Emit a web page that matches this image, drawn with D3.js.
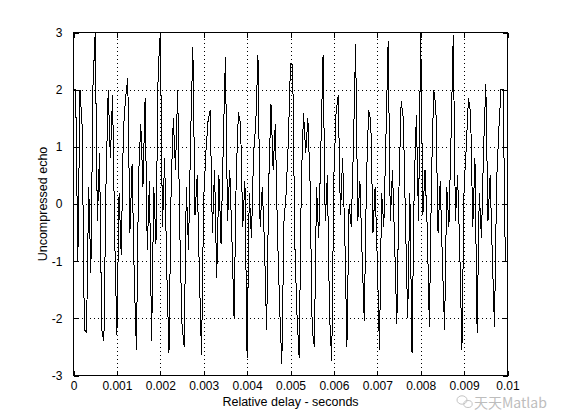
<!DOCTYPE html>
<html>
<head>
<meta charset="utf-8">
<script src="https://cdn.jsdelivr.net/npm/d3@7"></script>
<style>
  body { margin: 0; background: #fff; }
  text { font-family: "Liberation Sans", Arial, Helvetica, sans-serif; }
</style>
</head>
<body>
<div id="chart"></div>
<script>
var dt = 0.00005;
var echo = [
  2.0, 2.0, -1.0, 2.0, 1.35, -2.2, -2.25, 0.3, -1.2, 2.1,
  3.0, -0.3, 0.9, -2.2, -2.4, 0.4, 2.0, 0.8, 1.9, -0.6,
  -2.3, 0.2, -0.9, 1.3, 1.85, 2.2, -0.5, 0.7, -1.3, -2.55,
  0.5, 1.4, 0.3, 1.85, -0.8, 0.4, -2.4, 0.3, -0.7, 2.3,
  3.0, -0.4, 0.8, -1.2, -2.6, 0.3, 1.5, 0.6, 2.0, -0.5,
  -2.1, -2.5, 0.3, -0.8, 1.2, 2.75, -0.2, 0.5, -1.2, -2.65,
  0.1, 0.9, 1.45, 1.65, -0.5, 0.6, -1.3, 0.5, -0.7, 1.0,
  2.57, -0.3, 0.6, -0.6, -2.0, 0.5, 1.6, 1.4, -0.4, 0.4,
  -2.7, 0.2, -0.6, 0.9, 1.4, 2.6, -0.4, 0.3, -0.7, -2.2,
  0.4, 1.75, 0.6, 1.4, -0.5, -1.8, -2.8, -0.3, 0.2, 1.1,
  2.45, 2.43, -0.7, -1.95, -2.7, 0.4, 1.6, 0.9, 1.5, 0.4,
  -2.2, -2.5, 0.3, -0.6, 1.0, 2.6, -0.3, 0.5, -1.95, -2.75,
  0.5, 1.6, 1.9, -0.2, 0.8, -0.5, -2.5, 0.0, -0.4, 1.0,
  2.8, -0.3, 0.4, -0.9, -2.05, 0.4, 1.65, 1.45, -0.5, 0.3,
  -1.0, -2.55, 0.2, -0.4, 1.2, 2.85, -0.3, 0.6, -0.7, -2.1,
  0.3, 1.8, 1.5, -0.3, -2.0, 0.2, -2.6, 0.3, 1.55, -0.3,
  3.0, -0.2, 0.6, -0.4, -2.15, 0.5, 2.0, 1.7, -0.5, 0.4,
  -1.0, -2.2, 0.3, -0.4, 1.2, 2.95, -0.3, 0.5, -0.8, -2.55,
  0.3, 1.0, 1.85, 1.6, -0.4, 0.8, -2.25, 0.2, -0.6, 1.0,
  2.1, -0.3, 0.5, -0.9, -2.15, 0.4, 1.3, 2.0, 2.0, -1.0,
  -1.0
];

// ticks
var xTicks = [0, 0.001, 0.002, 0.003, 0.004, 0.005, 0.006, 0.007, 0.008, 0.009, 0.01];
var xTickLabels = ["0", "0.001", "0.002", "0.003", "0.004", "0.005", "0.006", "0.007", "0.008", "0.009", "0.01"];
var yTicks = [-3, -2, -1, 0, 1, 2, 3];
var yTickLabels = ["-3", "-2", "-1", "0", "1", "2", "3"];

// figure size and axes box
var W = 561, H = 420;
var box = {left: 73.5, right: 507.5, top: 32.5, bottom: 375.5};

var svg = d3.select("#chart").append("svg")
    .attr("width", W)
    .attr("height", H);

var x = d3.scaleLinear().domain([0, 0.01]).range([box.left, box.right]);
var y = d3.scaleLinear().domain([-3, 3]).range([box.bottom, box.top]);

// dotted grid
var grid = svg.append("g")
    .attr("stroke", "#000")
    .attr("stroke-width", 1)
    .attr("stroke-dasharray", "1,3")
    .attr("shape-rendering", "crispEdges");

grid.selectAll(".gx")
    .data(xTicks.slice(1, -1))
    .enter().append("line")
    .attr("x1", function (d) { return Math.round(x(d)) + 0.5; })
    .attr("x2", function (d) { return Math.round(x(d)) + 0.5; })
    .attr("y1", box.bottom)
    .attr("y2", box.top);

grid.selectAll(".gy")
    .data(yTicks.slice(1, -1))
    .enter().append("line")
    .attr("y1", function (d) { return Math.round(y(d)) + 0.5; })
    .attr("y2", function (d) { return Math.round(y(d)) + 0.5; })
    .attr("x1", box.left)
    .attr("x2", box.right);

// the echo trace
var line = d3.line()
    .x(function (d, i) { return x(i * dt); })
    .y(function (d) { return y(d); });

svg.append("path")
    .datum(echo)
    .attr("fill", "none")
    .attr("stroke", "#000")
    .attr("stroke-width", 1)
    .attr("shape-rendering", "crispEdges")
    .attr("d", line);

// axes with inward ticks on all four sides
function fmt(labels, ticks) {
    return function (d) { return labels[ticks.indexOf(d)]; };
}

var gxb = svg.append("g")
    .attr("transform", "translate(0," + box.bottom + ")")
    .call(d3.axisBottom(x).tickValues(xTicks).tickFormat(fmt(xTickLabels, xTicks))
        .tickSizeInner(-5).tickSizeOuter(0).tickPadding(6));
var gxt = svg.append("g")
    .attr("transform", "translate(0," + box.top + ")")
    .call(d3.axisTop(x).tickValues(xTicks).tickFormat("")
        .tickSizeInner(-5).tickSizeOuter(0));
var gyl = svg.append("g")
    .attr("transform", "translate(" + box.left + ",0)")
    .call(d3.axisLeft(y).tickValues(yTicks).tickFormat(fmt(yTickLabels, yTicks))
        .tickSizeInner(-5).tickSizeOuter(0).tickPadding(11));
var gyr = svg.append("g")
    .attr("transform", "translate(" + box.right + ",0)")
    .call(d3.axisRight(y).tickValues(yTicks).tickFormat("")
        .tickSizeInner(-5).tickSizeOuter(0));

[gxb, gxt, gyl, gyr].forEach(function (g) {
    g.select(".domain").remove();
    g.selectAll("line").attr("stroke", "#000").attr("shape-rendering", "crispEdges");
    g.selectAll("text")
        .attr("fill", "#000")
        .style("font-size", "12px")
        .style("font-family", "'Liberation Sans', Arial, sans-serif");
});

// axes box
svg.append("rect")
    .attr("x", box.left)
    .attr("y", box.top)
    .attr("width", box.right - box.left)
    .attr("height", box.bottom - box.top)
    .attr("fill", "none")
    .attr("stroke", "#000")
    .attr("shape-rendering", "crispEdges");

// axis titles
svg.append("text")
    .attr("x", (box.left + box.right) / 2)
    .attr("y", 406)
    .attr("text-anchor", "middle")
    .style("font-size", "12.5px")
    .text("Relative delay - seconds");

svg.append("text")
    .attr("transform", "translate(47," + (box.top + box.bottom) / 2 + ") rotate(-90)")
    .attr("text-anchor", "middle")
    .style("font-size", "12.5px")
    .text("Uncompressed echo");

// watermark
var wm = svg.append("g").attr("fill", "none").attr("stroke", "#c4c4c4");
wm.append("ellipse").attr("cx", 462).attr("cy", 400).attr("rx", 5).attr("ry", 4.2);
wm.append("ellipse").attr("cx", 468).attr("cy", 404).attr("rx", 4.2).attr("ry", 3.5);
svg.append("text")
    .attr("x", 474)
    .attr("y", 408)
    .attr("fill", "#bdbdbd")
    .style("font-size", "14px")
    .style("font-family", "'Noto Sans CJK SC', sans-serif")
    .text("天天Matlab");
</script>
</body>
</html>
